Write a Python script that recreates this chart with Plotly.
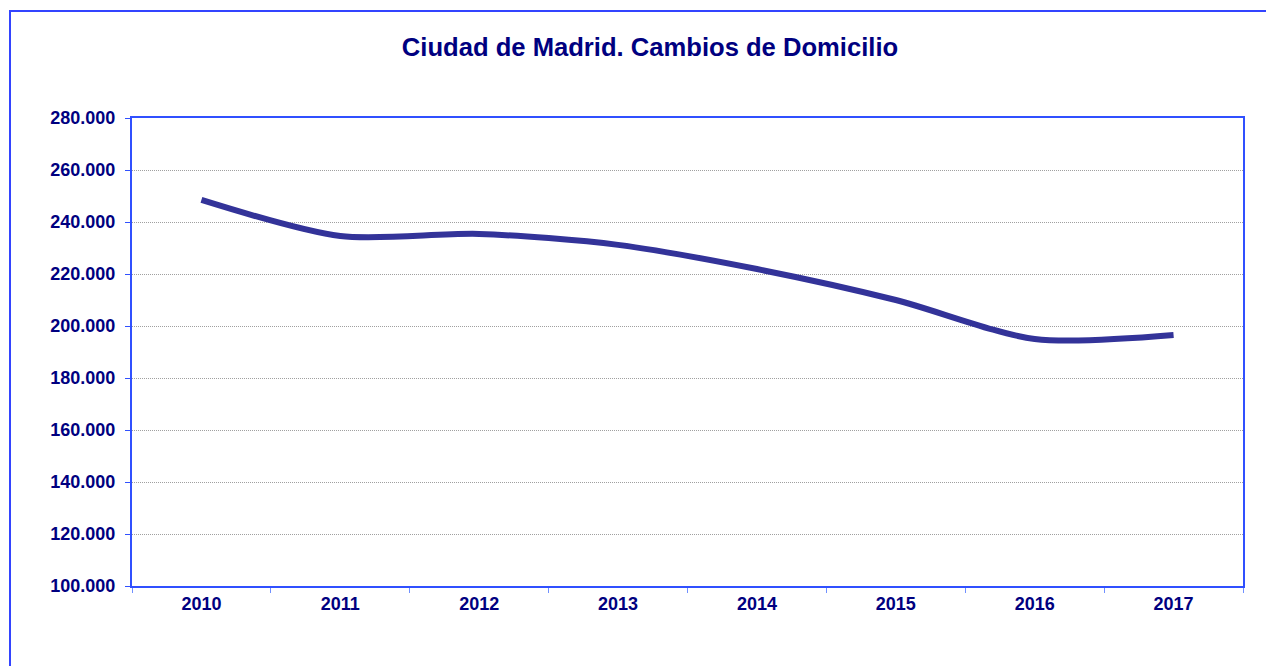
import plotly.graph_objects as go

years = ["2010", "2011", "2012", "2013", "2014", "2015", "2016", "2017"]
cambios = [248500, 234600, 235400, 231200, 221900, 210000, 195000, 196500]
y_ticks = [100000, 120000, 140000, 160000, 180000, 200000, 220000, 240000, 260000, 280000]
y_tick_labels = ["100.000", "120.000", "140.000", "160.000", "180.000",
                 "200.000", "220.000", "240.000", "260.000", "280.000"]

W, H = 1266, 666
L, R, T, B = 132, 23, 118, 80
pw, ph = W - L - R, H - T - B

navy = "#000080"
axis_blue = "#3050FF"
FONT = "Liberation Sans, Arial, sans-serif"

fig = go.Figure()
fig.add_trace(go.Scatter(
    x=years, y=cambios, mode="lines",
    line=dict(color="#333399", width=6, shape="spline", smoothing=0.8),
    hoverinfo="x+y", showlegend=False,
))

fig.update_layout(
    width=W, height=H,
    margin=dict(l=L, r=R, t=T, b=B),
    paper_bgcolor="white", plot_bgcolor="white",
    font=dict(family=FONT, color=navy),
    title=dict(text="<b>Ciudad de Madrid. Cambios de Domicilio</b>",
               x=650 / W, xanchor="center", y=1 - 47 / H, yanchor="middle",
               font=dict(size=25.6, color=navy, family=FONT)),
    xaxis=dict(
        type="category", range=[-0.5, 7.5],
        showline=True, linecolor=axis_blue, linewidth=2, mirror=True,
        ticks="outside", ticklen=5, tickcolor="#7090FF", tickwidth=1,
        tickson="boundaries", showgrid=False,
        tickfont=dict(size=18, color=navy, family=FONT, weight="bold"),
        ticklabelstandoff=0,
    ),
    yaxis=dict(
        range=[100000, 280000], tickvals=y_ticks, ticktext=y_tick_labels,
        showline=True, linecolor=axis_blue, linewidth=2, mirror=True,
        ticks="outside", ticklen=5, tickcolor=axis_blue, tickwidth=1,
        showgrid=True, gridcolor="#A0A0A0", gridwidth=1, griddash="1px,1px",
        tickfont=dict(size=18, color=navy, family=FONT, weight="bold"),
        ticklabelstandoff=6, zeroline=False,
    ),
)

# outer chart-area border
fig.add_shape(type="rect", xref="paper", yref="paper",
              x0=(10 - L) / pw, x1=(W + 10 - L) / pw,
              y0=(H - B - (H + 10)) / ph, y1=(H - B - 11) / ph,
              line=dict(color="#3344FF", width=2), fillcolor="rgba(0,0,0,0)", layer="below")

fig.write_html("out.html", config={"displayModeBar": False},
               post_script="document.body.style.margin='0';")
